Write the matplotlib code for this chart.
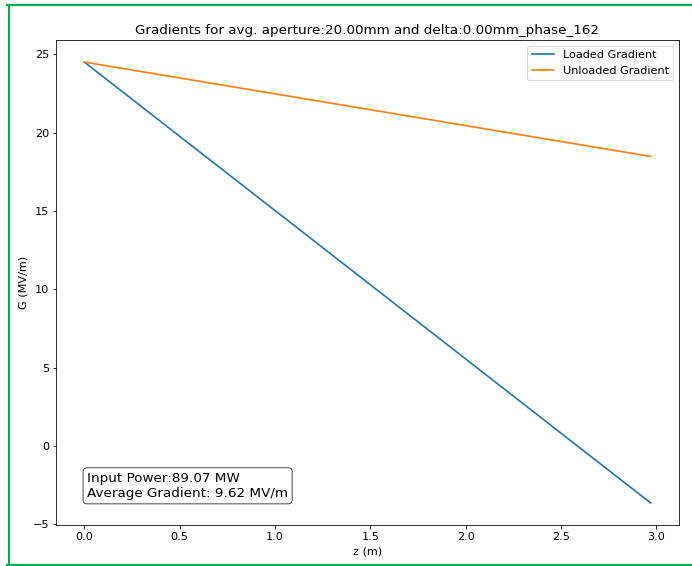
import numpy as np
import matplotlib
matplotlib.use('Agg')
import matplotlib.pyplot as plt
from matplotlib.lines import Line2D

# gradient along the structure (z in m, G in MV/m)
z = [0.0, 2.97]
loadedGrad = [24.5, -3.63]
unloadedGrad = [24.5, 18.48]

inputPower = 89.07
avgGradient = 9.62
aperture = 20.00
delta = 0.00
phase = 162

sc = 1.12
plt.rcParams['font.size'] = 10 * sc
plt.rcParams['lines.linewidth'] = 1.5 * sc

fig = plt.figure(figsize=[692 / 72, 566 / 72], dpi=72)
ax = fig.add_axes([0.0809, 0.0724, 0.9003, 0.8569])

ax.plot(z, loadedGrad, label='Loaded Gradient')
ax.plot(z, unloadedGrad, label='Unloaded Gradient')
ax.set_xlabel('z (m)')
ax.set_ylabel('G (MV/m)')
ax.set_title('Gradients for avg. aperture:%.2fmm and delta:%.2fmm_phase_%d' % (aperture, delta, phase),
             fontsize=12 * sc)
ax.legend(loc='upper right')

textStr = 'Input Power:%.2f MW\nAverage Gradient: %.2f MV/m' % (inputPower, avgGradient)
ax.text(0.05, 0.052, textStr, transform=ax.transAxes, fontsize=12 * sc,
        verticalalignment='bottom',
        bbox=dict(boxstyle='round', facecolor='white', edgecolor='black', alpha=0.7))

# green frame round the figure
green = '#00b050'
W, H = 692.0, 566.0
fig.add_artist(Line2D([8.5 / W, 8.5 / W], [0, 1 - 4.5 / H], color=green, lw=3 * 0.72, transform=fig.transFigure))
fig.add_artist(Line2D([7 / W, 1], [1 - 4.5 / H, 1 - 4.5 / H], color=green, lw=3 * 0.72, transform=fig.transFigure))
fig.add_artist(Line2D([7 / W, 1], [1.5 / H, 1.5 / H], color=green, lw=3 * 0.72, transform=fig.transFigure))

plt.savefig('out.png', dpi=72)
